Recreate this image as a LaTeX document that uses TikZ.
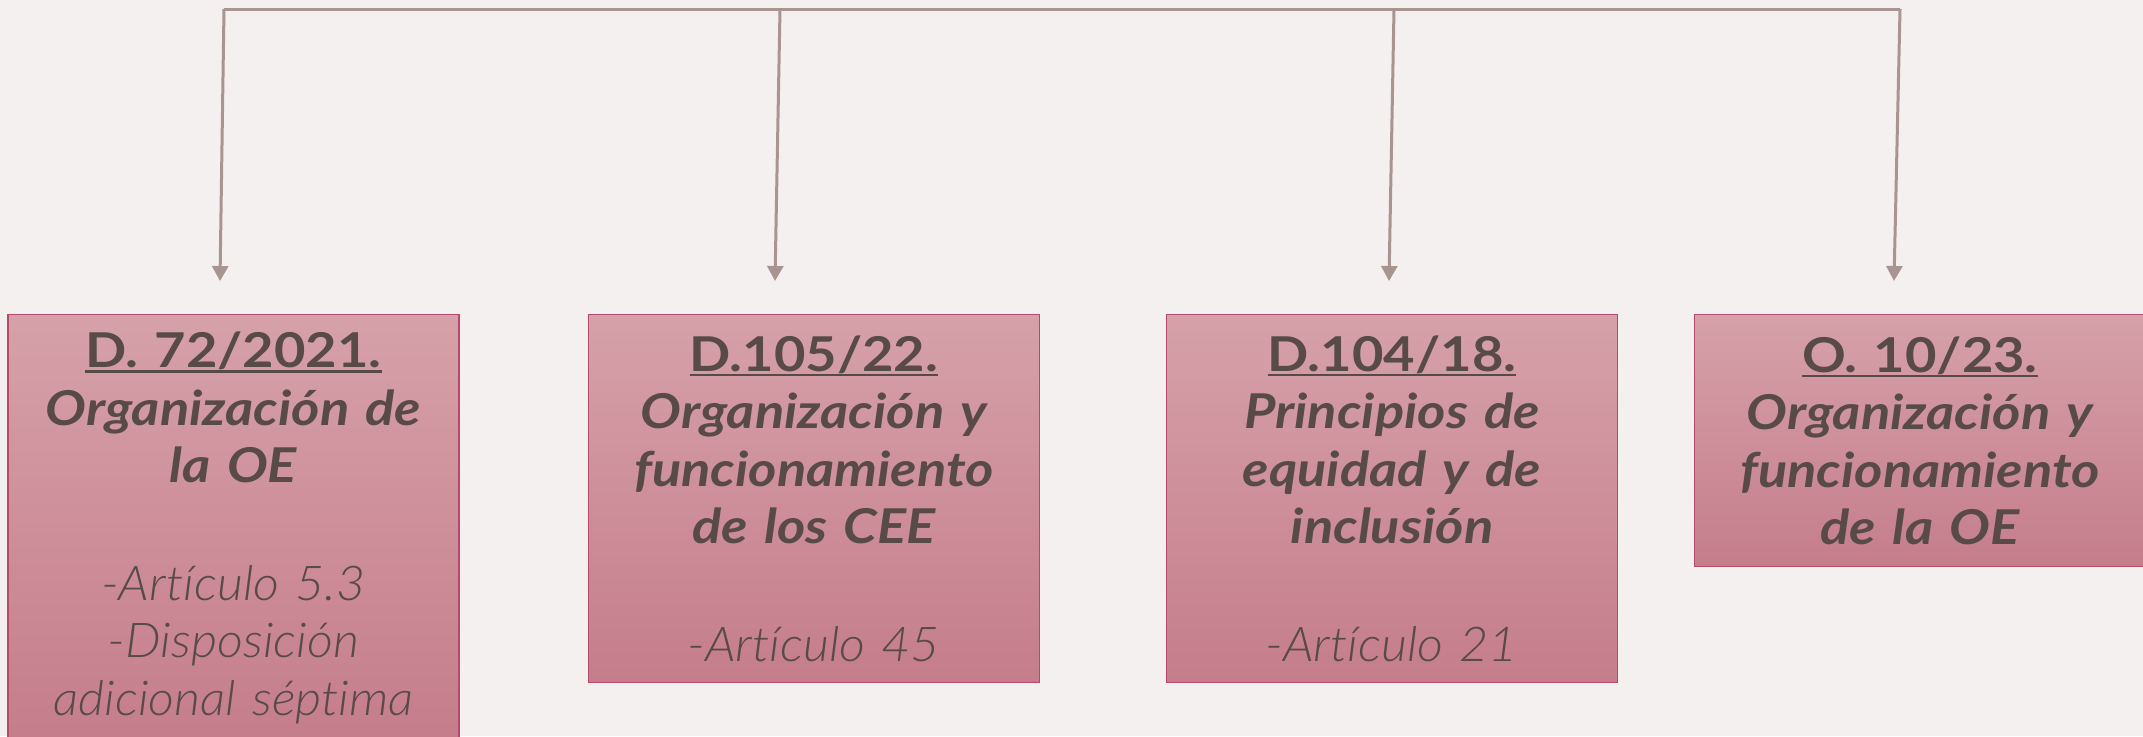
\documentclass[tikz,border=0pt]{standalone}
\usepackage{fontspec}
\setmainfont{Lato}[Ligatures=NoCommon]
\newfontfamily\latobold{Lato}[Ligatures=NoCommon, FakeStretch=1.13]
\newfontfamily\latolight{Lato Light}[ItalicFont={Lato Light Italic}, Ligatures=NoCommon, FakeStretch=1.05]
\usetikzlibrary{arrows.meta}
\definecolor{fondo}{RGB}{244,240,239}
\definecolor{linea}{RGB}{168,149,145}
\definecolor{texto}{RGB}{87,74,71}
\definecolor{arriba}{RGB}{214,161,169}
\definecolor{abajo}{RGB}{197,125,139}
\definecolor{borde}{RGB}{184,72,108}
\newcommand{\underlinetext}[1]{\setbox0=\hbox{#1}\rlap{\rule[-5pt]{\wd0}{2.2pt}}\box0}
\newcommand{\titulo}[1]{{\latobold\bfseries\underlinetext{#1}}\\}
\newcommand{\negrita}{\latobold\bfseries\itshape}
\newcommand{\articulo}{\latolight\itshape}
\tikzset{
  caja/.style={draw=borde, line width=1.3pt, top color=arriba, bottom color=abajo,
    anchor=north, minimum width=451pt, text width=440pt, align=center, inner sep=0pt,
    text=texto, font=\fontsize{48}{57.5}\selectfont},
  flecha/.style={draw=linea, line width=3pt, -{Triangle[length=15pt,width=16pt]}},
}

\begin{document}
\begin{tikzpicture}[x=1pt,y=-1pt]
\useasboundingbox (0,0) rectangle (2143,736);
\fill[fondo] (0,0) rectangle (2143,736);
\clip (0,0) rectangle (2143,736);
% cajas
\node[caja, minimum height=426pt] (d72) at (233.5,314) {\titulo{D. 72/2021.}{\negrita Organización de\\ la OE}\\[60pt]{\articulo -Artículo 5.3\\ -Disposición\\ adicional séptima}};
\node[caja, minimum height=368pt] (d105) at (814,314) {\titulo{D.105/22.}{\negrita Organización y\\ funcionamiento\\ de los CEE}\\[60pt]{\articulo -Artículo 45}};
\node[caja, minimum height=368pt] (d104) at (1392,314) {\titulo{D.104/18.}{\negrita Principios de\\ equidad y de\\ inclusión}\\[60pt]{\articulo -Artículo 21}};
\node[caja, minimum height=252pt] (o10) at (1920,314) {\titulo{O. 10/23.}{\negrita Organización y\\ funcionamiento\\ de la OE}};
% conectores
\coordinate (i1) at (224,9);  \coordinate (f1) at (220,281);
\coordinate (i2) at (780,9);  \coordinate (f2) at (775,281);
\coordinate (i3) at (1394,9); \coordinate (f3) at (1389,281);
\coordinate (i4) at (1900,9); \coordinate (f4) at (1894,281);
\draw[linea, line width=3pt] (i1) -- (i4);
\foreach \n in {1,...,4}{
  \draw[flecha] (i\n) -- (f\n);
}
\end{tikzpicture}
\end{document}
